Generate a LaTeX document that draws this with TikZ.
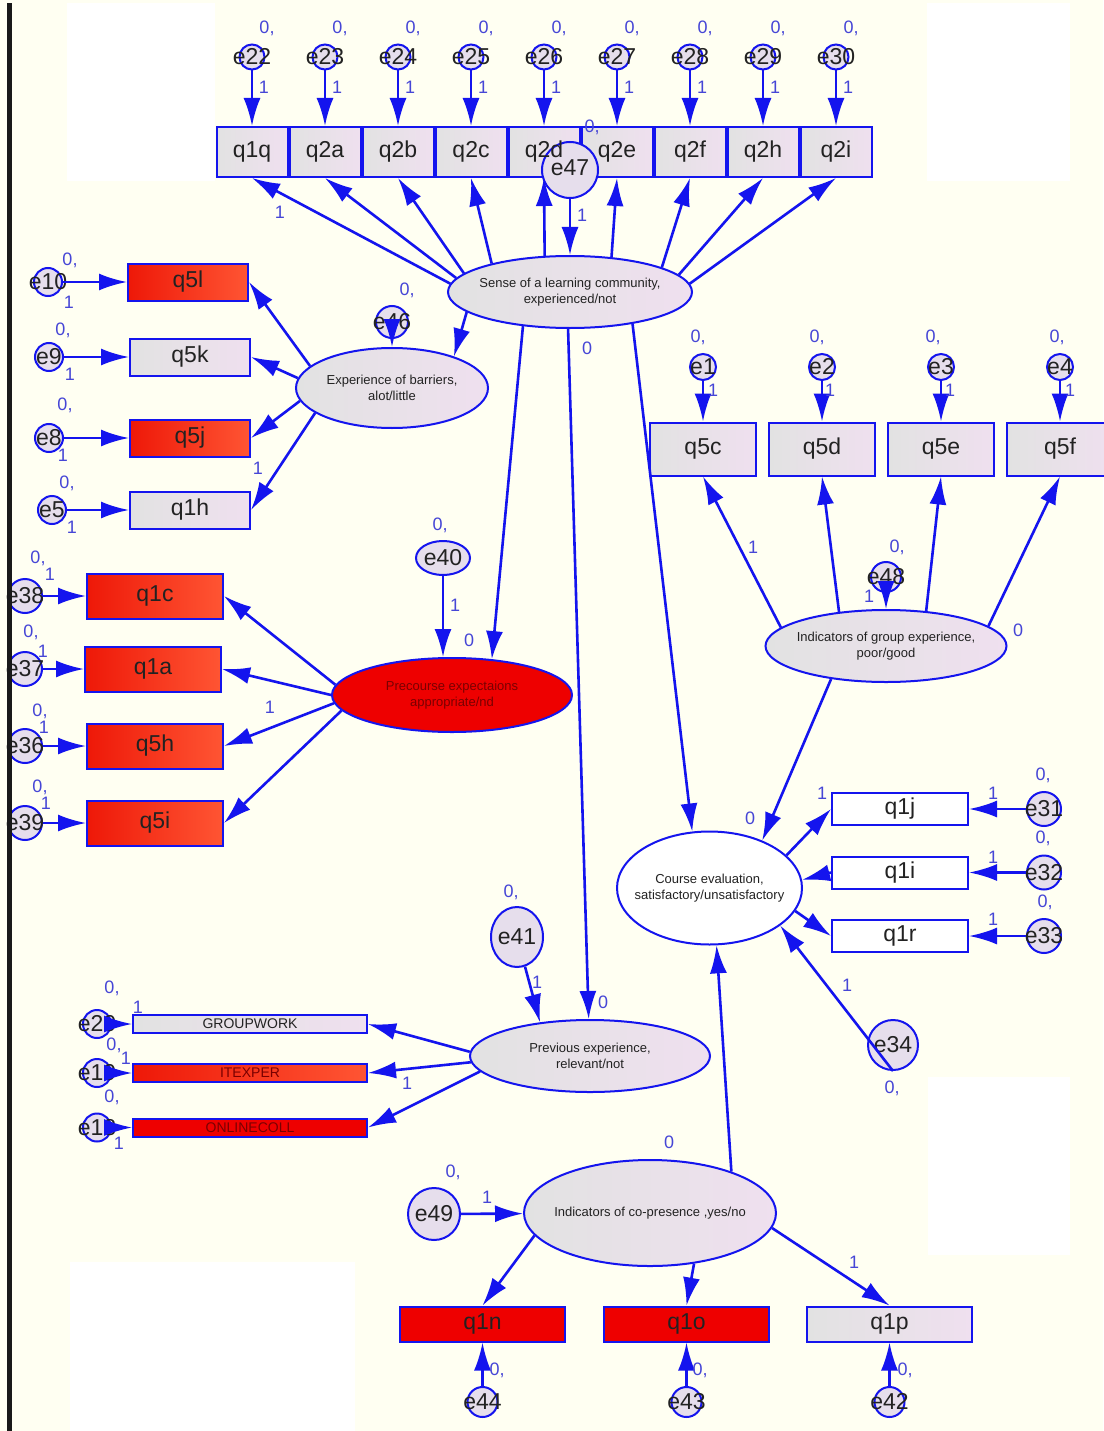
\documentclass[tikz,border=0pt]{standalone}
\usepackage{fontspec}
\setmainfont{Liberation Sans}
\usetikzlibrary{shapes.geometric,arrows.meta}
\definecolor{bgc}{HTML}{FFFFF2}
\definecolor{lb}{HTML}{1414EE}
\definecolor{numc}{HTML}{4646D6}
\definecolor{gl}{HTML}{E2E2E2}
\definecolor{gr}{HTML}{EFE0EF}
\definecolor{rl}{HTML}{EE1808}
\definecolor{rr}{HTML}{FF5533}
\definecolor{rf}{HTML}{EE0000}
\definecolor{ef}{HTML}{E6DEEC}
\definecolor{txt}{HTML}{222222}
\definecolor{dred}{HTML}{7A0000}
\tikzset{
 bx/.style={rectangle, draw=lb, line width=2pt, inner sep=0pt, font=\fontsize{23}{26}\selectfont, text=txt},
 gbox/.style={bx, left color=gl, right color=gr},
 rbox/.style={bx, left color=rl, right color=rr},
 fbox/.style={bx, fill=rf},
 wbox/.style={bx, fill=white},
 topbox/.style={gbox, minimum width=71pt, minimum height=50pt},
 boxtxt/.style={font=\fontsize{23}{26}\selectfont, text=txt, inner sep=0pt},
 lsize/.style={minimum width=120pt, minimum height=37pt},
 psize/.style={minimum width=136pt, minimum height=45pt},
 gsize/.style={minimum width=106pt, minimum height=53pt},
 csize/.style={minimum width=136pt, minimum height=32pt},
 wsize/.style={minimum width=234pt, minimum height=18pt, font=\fontsize{14}{16}\selectfont},
 bsize/.style={minimum width=165pt, minimum height=35pt},
 lat/.style={ellipse, draw=lb, line width=2pt, inner sep=0pt, left color=gl, right color=gr},
 lattxt/.style={font=\fontsize{13}{15.5}\selectfont, align=center, text=txt, inner sep=0pt},
 errc/.style={circle, draw=lb, line width=2pt, fill=ef, inner sep=0pt},
 elab/.style={font=\fontsize{23}{26}\selectfont, text=txt, inner sep=0pt},
 num/.style={font=\fontsize{18}{20}\selectfont, text=numc, inner sep=0pt},
 arr/.style={draw=lb, line width=2.6pt, -{Latex[length=28pt,width=17pt]}},
}
\begin{document}
\begin{tikzpicture}[x=1pt,y=-1pt]
\fill[bgc] (0,0) rectangle (1103,1431);
\useasboundingbox (0,0) rectangle (1103,1431);
\fill[white] (67,3) rectangle (215,181);
\fill[white] (927,3) rectangle (1070,181);
\fill[white] (928,1077) rectangle (1070,1255);
\fill[white] (70,1262) rectangle (355,1431);

% ---------- top row ----------
\foreach \n/\x/\e in {q1q/252/e22,q2a/325/e23,q2b/398/e24,q2c/471/e25,q2d/544/e26,q2e/617/e27,q2f/690/e28,q2h/763/e29,q2i/836/e30}{
  \node[topbox] (\n) at (\x,152) {};
  \node[errc, minimum size=25pt] (\e) at (\x,57) {};
  \node[elab] at (\e) {\e};
}
\node[lat, minimum width=244pt, minimum height=72pt] (sense) at (570,292) {};
\node[lattxt] at (sense) {Sense of a learning community,\\experienced/not};
\node[errc, minimum size=56pt] (e47) at (570,170) {};
\foreach \n in {q1q,q2a,q2b,q2c,q2d,q2e,q2f,q2h,q2i}
  \node[boxtxt] at (\n) {\n};
\node[elab] at ([yshift=2pt]e47) {e47};

% ---------- barriers ----------
\node[rbox, lsize] (q5l) at (188,282) {q5l};
\node[gbox, lsize] (q5k) at (190,357) {q5k};
\node[rbox, lsize] (q5j) at (190,438) {q5j};
\node[gbox, lsize] (q1h) at (190,510) {q1h};
\foreach \e/\x/\y in {e10/48/282,e9/49/357,e8/49/438,e5/52/510}{
  \node[errc, minimum size=28pt] (\e) at (\x,\y) {};
  \node[elab] at (\e) {\e};
}
\node[lat, minimum width=192pt, minimum height=80pt] (exp) at (392,388) {};
\node[lattxt] at (exp) {Experience of barriers,\\alot/little};
\node[errc, minimum size=32pt] (e46) at (392,322) {};
\node[elab] at (e46) {e46};

% ---------- precourse ----------
\node[rbox, psize] (q1c) at (155,596) {q1c};
\node[rbox, psize] (q1a) at (153,669) {q1a};
\node[rbox, psize] (q5h) at (155,746) {q5h};
\node[rbox, psize] (q5i) at (155,823) {q5i};
\foreach \e/\y in {e38/596,e37/669,e36/746,e39/823}{
  \node[errc, minimum size=34pt] (\e) at (25,\y) {};
  \node[elab] at (\e) {\e};
}
\node[ellipse, draw=lb, line width=2pt, fill=rf, inner sep=0pt, minimum width=240pt, minimum height=74pt] (pre) at (452,695) {};
\node[lattxt, text=dred] at (pre) {Precourse expectaions\\appropriate/nd};
\node[ellipse, draw=lb, line width=2pt, fill=ef, inner sep=0pt, minimum width=54pt, minimum height=34pt] (e40) at (443,558) {};
\node[elab] at (e40) {e40};

% ---------- group experience ----------
\node[gbox, gsize] (q5c) at (703,449) {q5c};
\node[gbox, gsize] (q5d) at (822,449) {q5d};
\node[gbox, gsize] (q5e) at (941,449) {q5e};
\node[gbox, gsize] (q5f) at (1060,449) {q5f};
\foreach \e/\x in {e1/703,e2/822,e3/941,e4/1060}{
  \node[errc, minimum size=26pt] (\e) at (\x,367) {};
  \node[elab] at (\e) {\e};
}
\node[lat, minimum width=241pt, minimum height=72pt] (group) at (886,646) {};
\node[lattxt] at (group) {Indicators of group experience,\\poor/good};
\node[errc, minimum size=30pt] (e48) at (886,577) {};
\node[elab] at (e48) {e48};

% ---------- course evaluation ----------
\node[ellipse, draw=lb, line width=2pt, fill=white, inner sep=0pt, minimum width=185pt, minimum height=113pt] (course) at (709.5,888) {};
\node[lattxt] at (course) {Course evaluation,\\satisfactory/unsatisfactory};
\node[wbox, csize] (q1j) at (900,809) {q1j};
\node[wbox, csize] (q1i) at (900,872.5) {q1i};
\node[wbox, csize] (q1r) at (900,936) {q1r};
\foreach \e/\y in {e31/809,e32/872.5,e33/936}{
  \node[errc, minimum size=34pt] (\e) at (1044,\y) {};
  \node[elab] at (\e) {\e};
}
\node[errc, minimum size=50pt] (e34) at (893,1045) {};
\node[elab] at (e34) {e34};

% ---------- previous experience ----------
\node[lat, minimum width=240pt, minimum height=72pt] (prev) at (590,1056) {};
\node[lattxt] at (prev) {Previous experience,\\relevant/not};
\node[ellipse, draw=lb, line width=2pt, fill=ef, inner sep=0pt, minimum width=52pt, minimum height=60pt] (e41) at (517,937) {};
\node[elab] at (e41) {e41};
\node[gbox, wsize] (gw) at (250,1024) {GROUPWORK};
\node[rbox, wsize, text=dred] (itx) at (250,1073) {ITEXPER};
\node[fbox, wsize, text=dred] (onl) at (250,1127.5) {ONLINECOLL};
\foreach \e/\y in {e20/1024,e19/1073,e18/1127.5}{
  \node[errc, minimum size=28pt] (\e) at (97,\y) {};
  \node[elab] at (\e) {\e};
}

% ---------- co-presence ----------
\node[lat, minimum width=252pt, minimum height=106pt] (co) at (650,1213) {};
\node[lattxt] at (co) {Indicators of co-presence ,yes/no};
\node[errc, minimum size=52pt] (e49) at (434,1214) {};
\node[elab] at (e49) {e49};
\node[fbox, bsize] (q1n) at (482.5,1324) {q1n};
\node[fbox, bsize] (q1o) at (686.5,1324) {q1o};
\node[gbox, bsize] (q1p) at (889.5,1324) {q1p};
\foreach \e/\x in {e44/482.5,e43/686.5,e42/889.5}{
  \node[errc, minimum size=30pt] (\e) at (\x,1402) {};
  \node[elab] at (\e) {\e};
}

% ================= connectors =================
\foreach \n/\e in {q1q/e22,q2a/e23,q2b/e24,q2c/e25,q2d/e26,q2e/e27,q2f/e28,q2h/e29,q2i/e30}
  \draw[arr] (\e) -- (\n);
\foreach \n/\a in {q1q/176,q2a/173,q2b/170,q2c/160,q2d/125,q2e/40,q2f/15,q2h/9,q2i/4}
  \draw[arr] (sense.\a) -- (\n.south);
\draw[arr] (e47) -- (sense.north);

\draw[arr] (e10) -- (q5l);
\draw[arr] (e9) -- (q5k);
\draw[arr] (e8) -- (q5j);
\draw[arr] (e5) -- (q1h);
\draw[arr] (exp.165) -- (q5l.east);
\draw[arr] (exp.174) -- (q5k.east);
\draw[arr] (exp.188) -- (q5j.east);
\draw[arr] (exp.198) -- (q1h.east);
\draw[arr] (sense.191) -- (exp.27);
\draw[arr] (e46) -- (exp.north);

\draw[arr] (e38) -- (q1c);
\draw[arr] (e37) -- (q1a);
\draw[arr] (e36) -- (q5h);
\draw[arr] (e39) -- (q5i);
\draw[arr] (pre.175) -- (q1c.east);
\draw[arr] (pre.180) -- (q1a.east);
\draw[arr] (pre.184) -- (q5h.east);
\draw[arr] (pre.188) -- (q5i.east);
\draw[arr] (e40) -- (pre.north -| e40);
\draw[arr] (sense.216) -- (pre.42);

\draw[arr] (e1) -- (q5c);
\draw[arr] (e2) -- (q5d);
\draw[arr] (e3) -- (q5e);
\draw[arr] (e4) -- (q5f);
\draw[arr] (group.170) -- (q5c.south);
\draw[arr] (group.144) -- (q5d.south);
\draw[arr] (group.41) -- (q5e.south);
\draw[arr] (group.11) -- (q5f.south);
\draw[arr] (e48) -- (group.north);
\draw[arr] (group.211) -- (course.42);

\draw[arr] (sense.333) -- (course.107);
\draw[arr] (course.23) -- (q1j.west);
\draw[arr] (q1i.west) -- (course.5);
\draw[arr] (course.345) -- (q1r.west);
\draw[arr] (e31) -- (q1j);
\draw[arr] (e32) -- (q1i);
\draw[arr] (e33) -- (q1r);
\draw[arr] (e34.south) -- (course.332);
\draw[arr] (co.27) -- (course.277);

\draw[arr] (sense.267) -- (prev.92);
\draw[arr] (e41) -- (prev.146);
\draw[arr] (prev.178) -- (gw.east);
\draw[arr] (prev.183) -- (itx.east);
\draw[arr] (prev.188) -- (onl.east);
\draw[arr] (e20) -- (gw);
\draw[arr] (e19) -- (itx);
\draw[arr] (e18) -- (onl);

\draw[arr] (e49) -- (co);
\draw[arr] (co.191) -- (q1n.north);
\draw[arr] (co.311) -- (q1o.north);
\draw[arr] (co.353) -- (q1p.north);
\draw[arr] (e44) -- (q1n);
\draw[arr] (e43) -- (q1o);
\draw[arr] (e42) -- (q1p);

% ================= parameter labels =================
\foreach \x in {252,325,398,471,544,617,690,763,836}{
  \node[num] at (\x+15,28) {0,};
  \node[num] at (\x+12,87) {1};
}
\node[num] at (592,127) {0,};
\node[num] at (582,215) {1};
\node[num] at (280,212) {1};
\node[num] at (587,348) {0};

\node[num] at (70,260) {0,};  \node[num] at (69,302) {1};
\node[num] at (63,330) {0,};  \node[num] at (70,374) {1};
\node[num] at (65,405) {0,};  \node[num] at (63,455) {1};
\node[num] at (67,483) {0,};  \node[num] at (72,527) {1};
\node[num] at (407,290) {0,};
\node[num] at (258,468) {1};

\node[num] at (440,525) {0,};
\node[num] at (455,605) {1};
\node[num] at (469,640) {0};
\node[num] at (38,558) {0,};  \node[num] at (50,574) {1};
\node[num] at (31,632) {0,};  \node[num] at (43,651) {1};
\node[num] at (40,711) {0,};  \node[num] at (44,727) {1};
\node[num] at (40,787) {0,};  \node[num] at (46,803) {1};
\node[num] at (270,707) {1};

\node[num] at (698,337) {0,};  \node[num] at (713,390) {1};
\node[num] at (817,337) {0,};  \node[num] at (830,390) {1};
\node[num] at (933,337) {0,};  \node[num] at (950,390) {1};
\node[num] at (1057,337) {0,}; \node[num] at (1070,390) {1};
\node[num] at (897,547) {0,};
\node[num] at (869,596) {1};
\node[num] at (753,547) {1};
\node[num] at (1018,630) {0};

\node[num] at (750,818) {0};
\node[num] at (822,793) {1};
\node[num] at (1043,775) {0,}; \node[num] at (993,793) {1};
\node[num] at (1043,838) {0,}; \node[num] at (993,857) {1};
\node[num] at (1045,902) {0,}; \node[num] at (993,919) {1};
\node[num] at (847,985) {1};
\node[num] at (892,1088) {0,};

\node[num] at (511,892) {0,};
\node[num] at (537,982) {1};
\node[num] at (603,1002) {0};
\node[num] at (112,988) {0,};  \node[num] at (138,1007) {1};
\node[num] at (114,1045) {0,}; \node[num] at (126,1058) {1};
\node[num] at (112,1097) {0,}; \node[num] at (119,1143) {1};
\node[num] at (407,1083) {1};

\node[num] at (669,1142) {0};
\node[num] at (453,1172) {0,};
\node[num] at (487,1197) {1};
\node[num] at (854,1262) {1};
\node[num] at (497,1370) {0,};
\node[num] at (700,1370) {0,};
\node[num] at (905,1370) {0,};

% left black rule
\fill[black!90] (7,3) rectangle (12,1431);
\end{tikzpicture}
\end{document}
